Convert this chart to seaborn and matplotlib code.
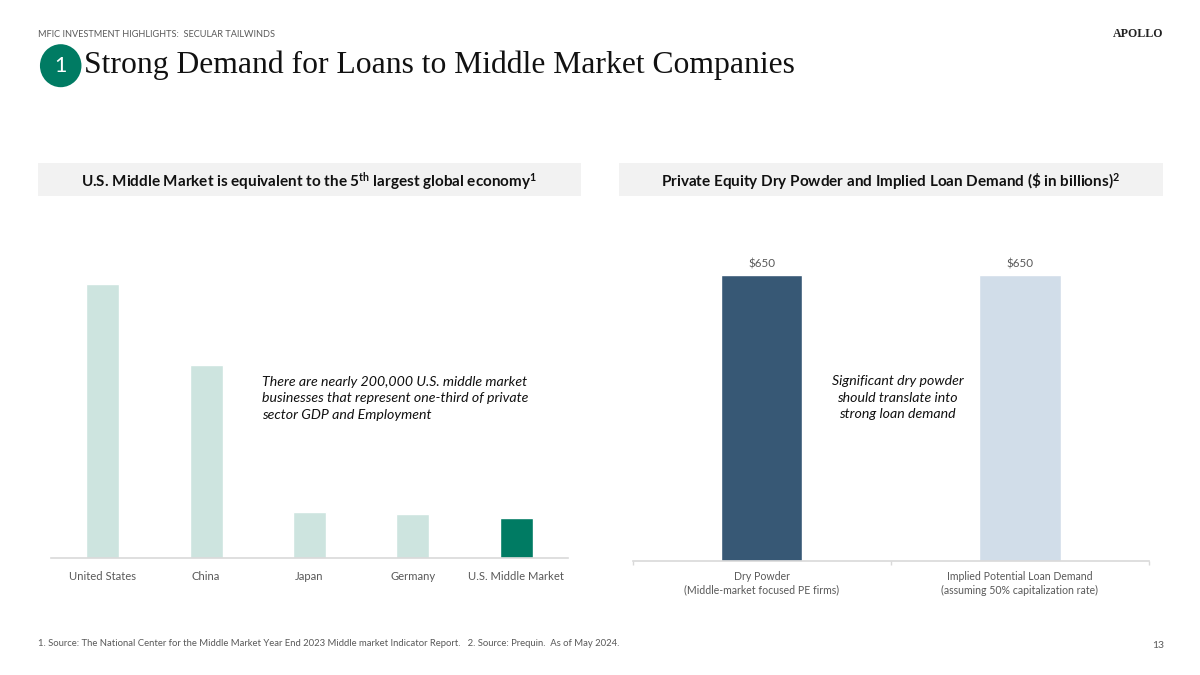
import matplotlib
matplotlib.use("Agg")
import matplotlib.pyplot as plt
from matplotlib.patches import Ellipse, Rectangle
import pandas as pd
import seaborn as sns

# left chart, $ trillions
countries = ["United States", "China", "Japan", "Germany", "U.S. Middle Market"]
gdp = [27.35, 19.25, 4.55, 4.35, 4.0]
country_colors = ["#cde4df", "#cde4df", "#cde4df", "#cde4df", "#007b63"]

# right chart, $ billions
loan_labels = ["Dry Powder\n(Middle-market focused PE firms)",
               "Implied Potential Loan Demand\n(assuming 50% capitalization rate)"]
loan_values = [650, 650]
loan_colors = ["#375875", "#d1dde9"]

sns.set_theme(style="white")
plt.rcParams["font.family"] = ["Lato", "DejaVu Sans"]
plt.rcParams["mathtext.fontset"] = "custom"
plt.rcParams["mathtext.rm"] = "Lato:bold"
plt.rcParams["mathtext.default"] = "rm"

W, H = 1200, 675
fig = plt.figure(figsize=(12, 6.75), dpi=100, facecolor="white")


def px_axes(left, right, top, bottom):
    return fig.add_axes([left / W, 1 - bottom / H, (right - left) / W, (bottom - top) / H])


# overlay in pixel coordinates for the slide furniture
bg = fig.add_axes([0, 0, 1, 1], zorder=0)
bg.set_xlim(0, W)
bg.set_ylim(H, 0)
bg.axis("off")

bg.text(38, 34.5, "MFIC INVESTMENT HIGHLIGHTS:  SECULAR TAILWINDS", fontsize=6.6,
        color="#595959", va="center")
bg.text(1163.5, 34, "APOLLO", fontsize=8.6, family="Liberation Serif", color="#222222",
        va="center", ha="right", fontweight="bold")
bg.add_patch(Ellipse((60.7, 65.7), 41.5, 43, color="#007b63", lw=0))
bg.text(60.7, 66, "1", fontsize=15.5, color="white", ha="center", va="center")
bg.text(84, 65.5, "Strong Demand for Loans to Middle Market Companies", fontsize=22.75,
        family="Liberation Serif", color="#111111", va="center")

bg.add_patch(Rectangle((38, 163), 543, 33, color="#f2f2f2", lw=0))
bg.add_patch(Rectangle((619, 163), 544, 33, color="#f2f2f2", lw=0))
bg.text(309.5, 182, r"U.S. Middle Market is equivalent to the 5$^{th}$ largest global economy$^{1}$",
        fontsize=11, fontweight="bold", color="#111111", ha="center", va="center")
bg.text(891, 182, r"Private Equity Dry Powder and Implied Loan Demand (\$ in billions)$^{2}$",
        fontsize=11, fontweight="bold", color="#111111", ha="center", va="center")

bg.text(38, 643.5, "1. Source: The National Center for the Middle Market Year End 2023 Middle market "
        "Indicator Report.   2. Source: Prequin.  As of May 2024.", fontsize=6.8,
        color="#595959", va="center")
bg.text(1164.5, 645, "13", fontsize=7.5, color="#595959", va="center", ha="right")

# left bars
ax1 = px_axes(51, 568, 200, 558)
df1 = pd.DataFrame({"country": countries, "gdp": gdp})
sns.barplot(data=df1, x="country", y="gdp", hue="country", palette=country_colors,
            width=0.318, legend=False, saturation=1, ax=ax1)
ax1.set_xlim(-0.5, 4.5)
ax1.set_ylim(0, 35.7)
ax1.set_xlabel("")
ax1.set_ylabel("")
ax1.set_yticks([])
sns.despine(ax=ax1, left=True)
ax1.spines["bottom"].set_color("#d9d9d9")
ax1.spines["bottom"].set_linewidth(1.2)
ax1.tick_params(axis="x", length=0, pad=9, labelsize=8.1, labelcolor="#595959")
ax1.patch.set_alpha(0)

# right bars
ax2 = px_axes(632.5, 1149, 200, 560.5)
df2 = pd.DataFrame({"item": loan_labels, "value": loan_values})
sns.barplot(data=df2, x="item", y="value", hue="item", palette=loan_colors,
            width=0.316, legend=False, saturation=1, ax=ax2)
ax2.set_xlim(-0.5, 1.5)
ax2.set_ylim(0, 821)
ax2.set_xlabel("")
ax2.set_ylabel("")
ax2.set_yticks([])
sns.despine(ax=ax2, left=True)
ax2.spines["bottom"].set_color("#d9d9d9")
ax2.spines["bottom"].set_linewidth(1.2)
ax2.tick_params(axis="x", which="major", length=0, pad=7.5, labelsize=7.6, labelcolor="#595959")
ax2.set_xticks([-0.5, 0.5, 1.5], minor=True)
ax2.tick_params(axis="x", which="minor", bottom=True, length=3, width=1, color="#d9d9d9")
for lab in ax2.get_xticklabels():
    lab.set_linespacing(1.3)
for i, v in enumerate(loan_values):
    ax2.annotate(f"${v}", (i, v), xytext=(0, 4), textcoords="offset points", ha="center",
                 va="bottom", fontsize=8.4, color="#595959")
ax2.patch.set_alpha(0)

# callouts on top of the charts
note = fig.add_axes([0, 0, 1, 1], zorder=5)
note.set_xlim(0, W)
note.set_ylim(H, 0)
note.axis("off")
note.text(262, 398.5, "There are nearly 200,000 U.S. middle market\nbusinesses that represent one-third of private\n"
          "sector GDP and Employment", fontsize=10.2, style="italic", color="#111111",
          va="center", linespacing=1.42)
note.text(897.5, 397.5, "Significant dry powder\nshould translate into\nstrong loan demand", fontsize=10.2,
          style="italic", color="#111111", va="center", ha="center", linespacing=1.42)

fig.savefig("out.png", dpi=100)
